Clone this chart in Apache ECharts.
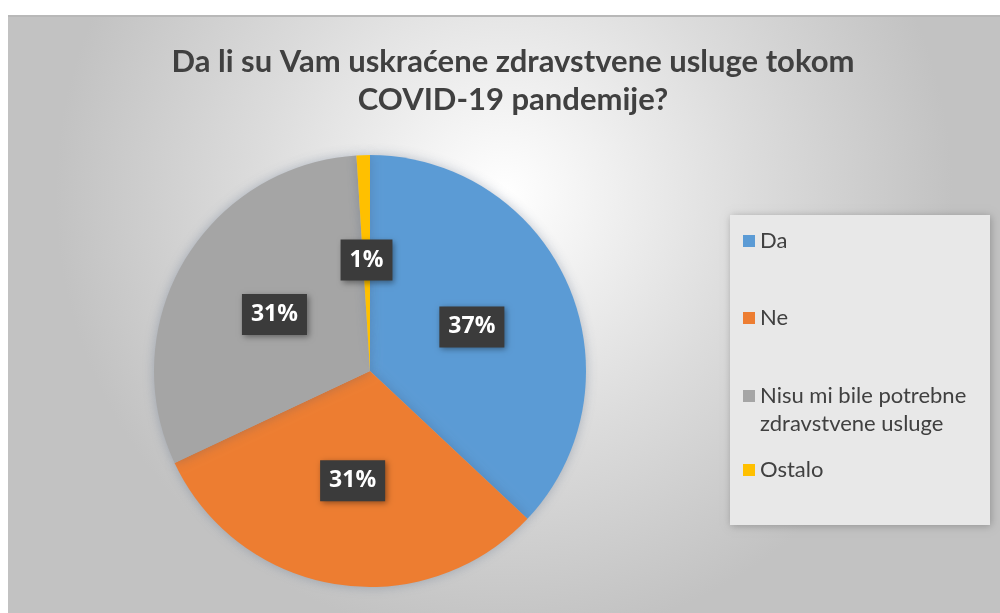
<!DOCTYPE html>
<html>
<head>
<meta charset="utf-8">
<script src="https://cdn.jsdelivr.net/npm/echarts@6/dist/echarts.min.js"></script>
<style>
html,body{margin:0;padding:0;background:#ffffff;}
#c{width:1000px;height:613px;}
</style>
</head>
<body>
<div id="c"></div>
<script>
const titleText = 'Da li su Vam uskraćene zdravstvene usluge tokom\nCOVID-19 pandemije?';
const categories = ['Da', 'Ne', 'Nisu mi bile potrebne\nzdravstvene usluge', 'Ostalo'];
const values = [37, 31, 31, 1];
const colors = ['#5b9bd5', '#ed7d31', '#a5a5a5', '#ffc000'];
const legendIconCenters = [241, 318, 396, 470];

const chart = echarts.init(document.getElementById('c'), null, {renderer: 'canvas'});

const legends = categories.map((name, i) => ({
  data: [name],
  left: 743,
  top: i === 2 ? legendIconCenters[i] - 42 : legendIconCenters[i] - 14,
  padding: 0,
  orient: 'vertical',
  itemWidth: 12,
  itemHeight: 12,
  itemGap: 8,
  icon: 'rect',
  selectedMode: false,
  formatter: i === 2 ? (n) => ' \n' + n : '{name}',
  textStyle: {
    fontFamily: 'Lato',
    fontSize: 22,
    color: '#404040',
    lineHeight: 28
  }
}));

chart.setOption({
  animation: false,
  color: colors,
  graphic: [
    {
      type: 'rect', z: -10, silent: true,
      shape: {x: 8, y: 15, width: 992, height: 598},
      style: {
        fill: {
          type: 'radial', x: 0.5, y: 0.3, r: 0.75,
          colorStops: [
            {offset: 0, color: '#ffffff'},
            {offset: 0.55, color: '#dcdcdc'},
            {offset: 1, color: '#c2c2c2'}
          ]
        }
      }
    },
    {
      type: 'rect', z: -9, silent: true,
      shape: {x: 8, y: 15, width: 992, height: 2},
      style: {fill: '#b8b8b8'}
    },
    {
      type: 'rect', z: -5, silent: true,
      shape: {x: 730, y: 215, width: 260, height: 310},
      style: {
        fill: '#e8e8e8',
        shadowBlur: 8, shadowColor: 'rgba(0,0,0,0.25)', shadowOffsetX: 1, shadowOffsetY: 1
      }
    }
  ],
  title: {
    text: titleText,
    left: 508,
    top: 38,
    padding: 5,
    textAlign: 'center',
    textStyle: {
      fontFamily: 'Lato',
      fontWeight: 'bold',
      fontSize: 31,
      lineHeight: 38,
      color: '#404040'
    }
  },
  legend: legends,
  series: [{
    type: 'pie',
    center: [370, 371],
    radius: [0, 216],
    startAngle: 90,
    clockwise: true,
    silent: true,
    itemStyle: {
      shadowBlur: 12,
      shadowColor: 'rgba(70,90,120,0.35)'
    },
    label: {
      show: true,
      position: 'inner',
      formatter: '{c}%',
      fontFamily: 'Open Sans',
      fontWeight: 'bold',
      fontSize: 23,
      color: '#ffffff',
      backgroundColor: '#3b3b3b',
      padding: [10, 9, 8, 9],
      shadowBlur: 6,
      shadowColor: 'rgba(0,0,0,0.4)',
      shadowOffsetX: 2,
      shadowOffsetY: 2
    },
    labelLine: {show: false},
    data: categories.map((name, i) => ({name: name, value: values[i]}))
  }]
});
</script>
</body>
</html>
